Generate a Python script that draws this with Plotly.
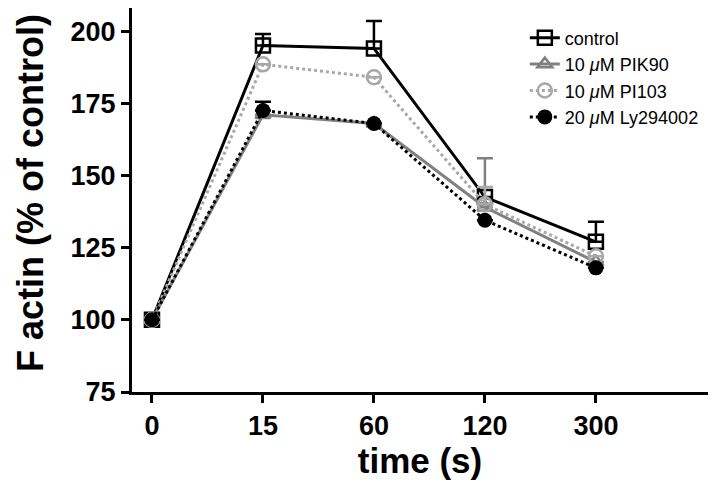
import plotly.graph_objects as go

time_labels = ["0", "15", "60", "120", "300"]
control = [100, 195, 194, 142.5, 127]
control_err = [0, 4, 9.5, 0, 7]
pik90 = [100, 171, 168, 139, 120]
pik90_err = [0, 0, 0, 17, 0]
pi103 = [100, 188.5, 184, 140, 122]
pi103_err = [0, 0, 0, 6, 0]
ly = [100, 172.5, 168, 134.5, 118]
ly_err = [0, 3, 0, 0, 0]

names = ["control", "10 <i>μ</i>M PIK90", "10 <i>μ</i>M PI103", "20 <i>μ</i>M Ly294002"]

xs = list(range(len(time_labels)))

series = [
    (control, control_err, "black", "solid", "square-open", 14, 2.5),
    (pik90, pik90_err, "#808080", "solid", "triangle-up-open", 13, 2.5),
    (pi103, pi103_err, "#a8a8a8", "dot", "circle-open", 14, 2.5),
    (ly, ly_err, "black", "dot", "circle", 15, 0),
]

fig = go.Figure()
for i, (vals, err, col, dash, sym, sz, lw) in enumerate(series):
    fig.add_trace(go.Scatter(
        x=xs, y=vals, name=names[i],
        mode="lines+markers",
        line=dict(color=col, width=3, dash=dash),
        marker=dict(symbol=sym, size=sz, color=col, line=dict(color=col, width=lw)),
        error_y=dict(type="data", array=err, arrayminus=[0]*len(err), symmetric=False,
                     color=col, thickness=2.5, width=8),
    ))

fig.add_annotation(
    text="F actin (% of control)", textangle=-90,
    xref="paper", yref="paper", x=-0.175, y=0.519,
    xanchor="center", yanchor="middle", showarrow=False,
    borderpad=0,
    font=dict(size=36, weight="bold", color="black"),
)

fig.update_layout(
    width=712, height=478,
    margin=dict(l=124, r=12, t=0, b=94, autoexpand=False),
    paper_bgcolor="white", plot_bgcolor="white",
    font=dict(family="Liberation Sans, Arial, sans-serif", color="black"),
    showlegend=True,
    legend=dict(x=0.682, y=0.970, xanchor="left", yanchor="top",
                font=dict(size=18, color="black"), bgcolor="rgba(0,0,0,0)"),
    xaxis=dict(
        range=[-0.18, 5.01], tickvals=xs, ticktext=time_labels,
        showgrid=False, zeroline=False, automargin=False,
        showline=True, linecolor="black", linewidth=3,
        ticks="outside", ticklen=8, tickwidth=2.5, tickcolor="black",
        tickfont=dict(size=27, weight="bold"),
        title=dict(text="time (s)", font=dict(size=35, weight="bold"), standoff=4),
    ),
    yaxis=dict(
        range=[75, 208], tickvals=[75, 100, 125, 150, 175, 200],
        showgrid=False, zeroline=False, automargin=False,
        showline=True, linecolor="black", linewidth=3,
        ticks="outside", ticklen=8, tickwidth=2.5, tickcolor="black",
        tickfont=dict(size=27, weight="bold"),
    ),
)

fig.write_html("out.html")
